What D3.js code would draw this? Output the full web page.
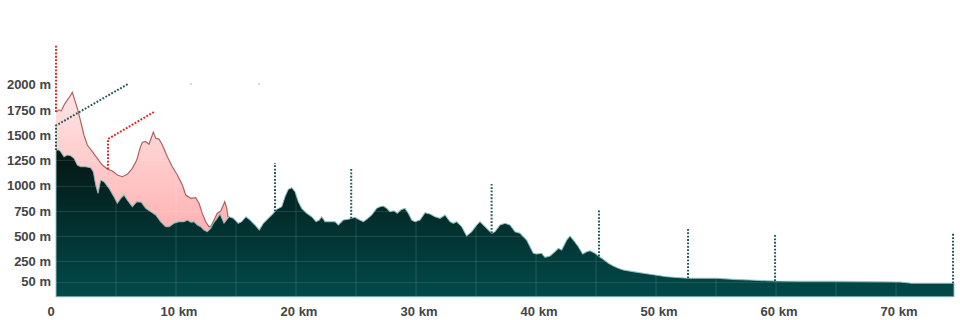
<!DOCTYPE html>
<html><head><meta charset="utf-8">
<script src="https://cdn.jsdelivr.net/npm/d3@7"></script>
<style>body{margin:0;background:#fff}svg{display:block}</style>
</head><body><svg id="c" width="960" height="320"></svg>
<script>
// ---- data ----
const distKm = [0,0.25,0.39,0.67,0.94,1.23,1.5,1.78,2.06,2.47,2.89,3.11,3.31,3.5,3.72,4.0,4.42,4.83,5.11,5.39,5.67,5.94,6.36,6.73,7.11,7.48,7.89,8.31,8.72,9.14,9.42,9.83,10.25,10.67,10.94,11.23,11.5,11.78,12.06,12.33,12.61,12.89,13.11,13.39,13.67,14.0,14.42,14.78,15.19,15.47,15.83,16.17,16.58,16.94,17.28,17.69,18.11,18.39,18.81,19.08,19.36,19.64,19.92,20.19,20.47,20.89,21.31,21.67,21.94,22.14,22.42,22.83,23.25,23.53,23.94,24.36,24.64,24.92,25.19,25.61,25.89,26.31,26.72,27.0,27.28,27.56,27.83,28.17,28.44,28.72,29.08,29.36,29.64,29.92,30.33,30.75,31.17,31.58,32.0,32.42,32.83,33.11,33.39,33.81,34.22,34.64,35.06,35.33,35.75,36.31,36.58,37.0,37.42,37.83,38.25,38.67,38.94,39.22,39.5,39.78,40.06,40.47,40.75,41.17,41.58,41.86,42.14,42.56,42.83,43.11,43.53,43.89,44.22,44.5,44.92,45.28,45.61,46.03,46.44,46.86,47.28,48.11,48.94,49.92,50.89,52.0,52.69,53.67,55.06,56.44,57.83,59.22,59.94,62.0,64.78,67.56,70.33,71.31,73.11,74.83];
const elevM = [1352,1352,1336,1286,1303,1296,1270,1204,1187,1187,1177,1138,1006,924,1055,1039,973,890,825,874,907,857,791,841,835,775,742,709,643,593,593,627,643,643,659,637,643,610,593,560,544,577,627,669,719,627,692,676,627,643,692,659,610,560,627,676,726,765,791,890,963,979,940,841,775,726,692,643,659,692,643,643,643,610,659,666,676,686,666,643,666,709,775,791,798,775,742,751,726,758,775,726,659,643,659,732,719,692,676,709,643,627,643,593,501,544,610,643,593,528,544,610,627,610,544,528,494,461,395,330,323,330,290,303,346,379,362,461,501,461,395,323,346,355,330,296,270,231,204,181,164,148,132,115,98,88,82,82,82,72,65,58,55,52,52,49,46,33,33,33];

const altKm = [0,0.25,0.44,0.67,0.94,1.23,1.36,1.56,1.78,2.06,2.33,2.61,3.03,3.44,3.86,4.28,4.69,5.11,5.53,5.94,6.36,6.73,7.0,7.19,7.48,7.75,7.94,8.11,8.31,8.58,8.86,9.28,9.69,10.11,10.53,10.81,11.23,11.64,11.92,12.19,12.48,12.75,12.94,13.17,13.44,13.73,14.06,14.23,14.33,14.42];
const altM = [1728,1748,1738,1798,1847,1897,1924,1847,1765,1633,1501,1402,1336,1270,1204,1164,1145,1105,1088,1112,1171,1253,1369,1429,1435,1409,1474,1528,1468,1461,1402,1286,1187,1105,1006,907,874,880,825,725,642,593,603,659,726,748,841,775,692,689];

const markerKm = [18.25,24.6,36.3,45.25,52.67,59.92,74.75];
const markerTopM = [1224,1174,1016,768,570,511,531];

const leaderRed1 = [[0,1728],[0,2390]];
const leaderTeal1 = [[0,1352],[0,1595],[6.0,2006]];
const leaderRed2 = [[4.33,1162],[4.33,1461],[8.17,1729]];
const faintDotKm = [11.25,16.92];
const faintDotM = 2006;

const xTicks = [0,10,20,30,40,50,60,70];
const xTickLabels = ["0","10 km","20 km","30 km","40 km","50 km","60 km","70 km"];
const xGrid = [5,10,15,20,25,30,35,40,45,50,55,60,65,70];
const yTicks = [50,250,500,750,1000,1250,1500,1750,2000];
const yTickLabels = ["50 m","250 m","500 m","750 m","1000 m","1250 m","1500 m","1750 m","2000 m"];

// ---- chart ----
const svg = d3.select("#c");
const x = d3.scaleLinear().domain([0, 74.83]).range([56, 954]);
const y = d3.scaleLinear().domain([-100, 2400]).range([296.7, 44.2]);
const yMin = y.domain()[0];

const defs = svg.append("defs");
const gDark = defs.append("linearGradient").attr("id","gDark")
  .attr("gradientUnits","userSpaceOnUse").attr("x1",0).attr("x2",0)
  .attr("y1", y(1400)).attr("y2", y(yMin));
gDark.append("stop").attr("offset","0").attr("stop-color","#061411");
gDark.append("stop").attr("offset","0.45").attr("stop-color","#022c2a");
gDark.append("stop").attr("offset","1").attr("stop-color","#024a4a");
const gPink = defs.append("linearGradient").attr("id","gPink")
  .attr("gradientUnits","userSpaceOnUse").attr("x1",0).attr("x2",0)
  .attr("y1", y(1950)).attr("y2", y(550));
gPink.append("stop").attr("offset","0").attr("stop-color","#ffe6e6");
gPink.append("stop").attr("offset","1").attr("stop-color","#ffb2b2");

const dark = distKm.map((k,i)=>[k, elevM[i]]);
const alt = altKm.map((k,i)=>[k, altM[i]]);

const area = d3.area().x(d=>x(d[0])).y0(y(yMin)).y1(d=>y(d[1]));
const line = d3.line().x(d=>x(d[0])).y(d=>y(d[1]));

svg.append("path").datum(alt).attr("d", area).attr("fill","url(#gPink)");
svg.append("path").datum(alt).attr("d", line).attr("fill","none")
  .attr("stroke","#b0605e").attr("stroke-width",1.2);

svg.append("path").datum(dark).attr("d", area).attr("fill","url(#gDark)");

// grid
svg.append("g").selectAll("line").data(xGrid).join("line")
  .attr("x1",d=>x(d)).attr("x2",d=>x(d)).attr("y1",y(2400)).attr("y2",y(yMin))
  .attr("stroke","#ffffff").attr("stroke-opacity",0.13).attr("stroke-width",1);
svg.append("g").selectAll("line").data(yTicks).join("line")
  .attr("x1",x(0)).attr("x2",x(74.83)).attr("y1",d=>Math.round(y(d))+0.5).attr("y2",d=>Math.round(y(d))+0.5)
  .attr("stroke","#ffffff").attr("stroke-opacity",0.11).attr("stroke-width",1);

// outline of dark area
svg.append("path").datum(dark).attr("d", d=>area(d)).attr("fill","none")
  .attr("stroke","#8fc2bf").attr("stroke-opacity",0.85).attr("stroke-width",1.1);

// markers
const bis = d3.bisector(d=>d).left;
function elevAt(k){
  const i = Math.max(1, Math.min(distKm.length-1, bis(distKm, k)));
  const t = (k - distKm[i-1])/(distKm[i]-distKm[i-1]);
  return elevM[i-1] + t*(elevM[i]-elevM[i-1]);
}
svg.append("g").selectAll("line").data(markerKm).join("line")
  .attr("x1",d=>x(d)).attr("x2",d=>x(d))
  .attr("y1",d=>y(elevAt(d))).attr("y2",(d,i)=>y(markerTopM[i]))
  .attr("stroke","#22595a").attr("stroke-width",2).attr("stroke-dasharray","1.8,1.6");

[[leaderRed1,"#dd2222"],[leaderTeal1,"#22595a"],[leaderRed2,"#dd2222"]].forEach(([pts,c])=>{
  svg.append("path").datum(pts).attr("d", line).attr("fill","none")
    .attr("stroke",c).attr("stroke-width",2).attr("stroke-dasharray","1.8,1.6");
});

svg.append("g").selectAll("circle").data(faintDotKm).join("circle")
  .attr("cx",d=>x(d)).attr("cy",y(faintDotM)).attr("r",0.9).attr("fill","#c8c8c8");

// axis labels
svg.append("g").selectAll("text").data(yTicks).join("text")
  .attr("x",51).attr("y",d=>y(d)).attr("dy","0.36em")
  .attr("text-anchor","end").attr("font-family","Liberation Sans, Arial, sans-serif")
  .attr("font-weight","bold").attr("font-size",13).attr("fill","#444")
  .text((d,i)=>yTickLabels[i]);
svg.append("g").selectAll("text").data(xTicks).join("text")
  .attr("x",d=>x(d) + (d===0 ? -5 : 3)).attr("y",316)
  .attr("text-anchor","middle").attr("font-family","Liberation Sans, Arial, sans-serif")
  .attr("font-weight","bold").attr("font-size",13).attr("fill","#444")
  .text((d,i)=>xTickLabels[i]);
</script></body></html>
